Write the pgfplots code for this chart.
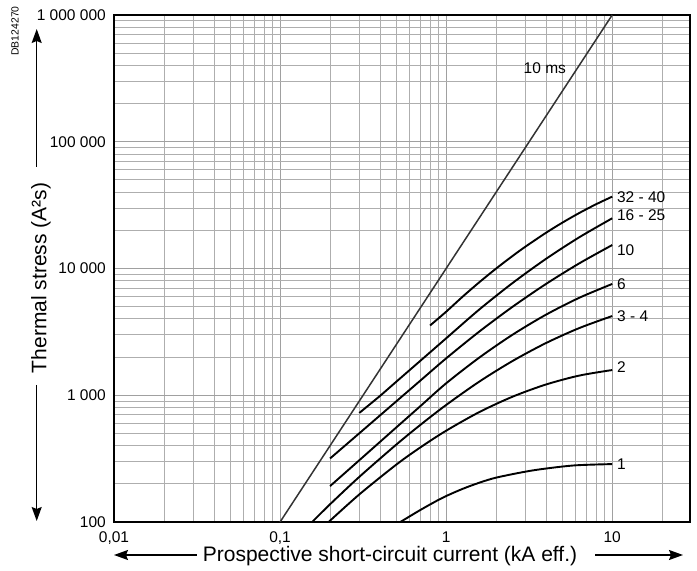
\documentclass[border=0pt]{standalone}
\usepackage{fontspec}
\setmainfont{Liberation Sans}
\usepackage{pgfplots}
\pgfplotsset{compat=1.18}
\usetikzlibrary{arrows.meta}
\definecolor{gridgray}{HTML}{A0A0A0}
\definecolor{tenms}{HTML}{333333}
\begin{document}
\begin{tikzpicture}
\useasboundingbox (-114pt,-49pt) rectangle (583pt,522pt);
\begin{axis}[
  at={(0pt,0pt)}, anchor=south west,
  scale only axis, width=576pt, height=507pt,
  xmode=log, ymode=log,
  xmin=0.01, xmax=29.4, ymin=100, ymax=1000000,
  xtick={0.01,0.1,1,10},
  xticklabels={{\mbox{0,01}},{\mbox{0,1}},{\mbox{1}},{\mbox{10}}},
  ytick={100,1000,10000,100000,1000000},
  yticklabels={{\mbox{100}},{\mbox{1 000}},{\mbox{10 000}},{\mbox{100 000}},{\mbox{1 000 000}}},
  minor xtick={0.02,0.03,0.04,0.05,0.06,0.07,0.08,0.09,0.2,0.3,0.4,0.5,0.6,0.7,0.8,0.9,2,3,4,5,6,7,8,9,20},
  minor ytick={200,300,400,500,600,700,800,900,2000,3000,4000,5000,6000,7000,8000,9000,20000,30000,40000,50000,60000,70000,80000,90000,200000,300000,400000,500000,600000,700000,800000,900000},
  grid=both,
  major grid style={draw=gridgray, line width=0.9pt},
  minor grid style={draw=gridgray!85, line width=0.9pt},
  axis line style={line width=1.8pt},
  major tick length=0pt, minor tick length=0pt,
  xticklabel style={font=\fontsize{15.5}{18}\selectfont, inner sep=0pt, anchor=base, yshift=-20.5pt},
  yticklabel style={font=\fontsize{15.5}{18}\selectfont, inner sep=0pt, anchor=east, xshift=-8pt},
  clip=true,
  every axis plot/.append style={line cap=butt},
]
% 10 ms
\addplot[tenms, line width=1.5pt] coordinates {(0.1,100) (10,1000000)};
% 32 - 40
\addplot[black, line width=1.9pt, smooth] coordinates {(0.8,3550) (1,4560) (1.259,6006) (1.585,7795) (2,9990) (2.512,12560) (3,14860) (3.981,19080) (5,22960) (6.31,27330) (7.943,31990) (10,36900)};
% 16 - 25
\addplot[black, line width=1.9pt, smooth] coordinates {(0.3,725) (0.4,989) (0.5,1276) (0.7,1872) (1,2812) (1.585,4752) (2.512,7683) (3.981,11880) (6.31,17580) (10,24890)};
% 10
\addplot[black, line width=1.9pt, smooth] coordinates {(0.2,317) (0.3,501) (0.5,893) (0.7,1306) (1,1954) (1.585,3183) (2.512,4989) (3.981,7531) (6.31,10945) (10,15310)};
% 6
\addplot[black, line width=1.9pt, smooth] coordinates {(0.2,192) (0.3,307) (0.5,556) (0.7,821) (1,1242) (1.585,1984) (2.512,3004) (3.981,4312) (6.31,5861) (10,7551)};
% 3 - 4
\addplot[black, line width=1.9pt, smooth] coordinates {(0.156,100) (0.2,138) (0.3,227) (0.5,407) (0.7,584) (1,838) (1.585,1282) (2.512,1864) (3.981,2576) (6.31,3382) (10,4217)};
% 2
\addplot[black, line width=1.9pt, smooth] coordinates {(0.196,100) (0.3,165) (0.5,283) (0.7,388) (1,525) (1.585,737) (2.512,974) (3.981,1214) (6.31,1428) (10,1581)};
% 1
\addplot[black, line width=1.9pt, smooth] coordinates {(0.53,100) (0.7,124.5) (0.9,149.6) (1,160.3) (1.26,182.8) (1.585,204.2) (2,223.9) (3,249.5) (4,264.2) (6,279.9) (10,286.4)};
% labels
\node[font=\fontsize{15.5}{18}\selectfont, inner sep=0pt] at (axis cs:3.93,380000) {10 ms};
\begin{scope}[every node/.style={font=\fontsize{15.5}{18}\selectfont, inner sep=0pt, anchor=west, xshift=4.7pt}]
\node at (axis cs:10,36860) {32 - 40};
\node at (axis cs:10,26420) {16 - 25};
\node at (axis cs:10,13870) {10};
\node at (axis cs:10,7550) {6};
\node at (axis cs:10,4220) {3 - 4};
\node at (axis cs:10,1680) {2};
\node at (axis cs:10,284) {1};
\end{scope}
\end{axis}
% side texts and arrows
\node[rotate=90, font=\fontsize{10.4}{12}\selectfont, inner sep=0pt] at (-99pt,491pt) {DB124270};
\draw[line width=1.3pt, -{Stealth[length=14pt, width=10pt, inset=2pt]}] (-77.3pt,355pt) -- (-77.3pt,493pt);
\draw[line width=1.3pt, -{Stealth[length=14pt, width=10pt, inset=2pt]}] (-77.3pt,137pt) -- (-77.3pt,1pt);
\node[rotate=90, font=\fontsize{21}{24}\selectfont, inner sep=0pt] at (-73pt,244pt) {Thermal stress (A²s)};
\node[font=\fontsize{21}{24}\selectfont, inner sep=0pt] at (276pt,-34.5pt) {Prospective short-circuit current (kA eff.)};
\draw[line width=1.3pt, -{Stealth[length=14pt, width=10pt, inset=2pt]}] (83pt,-33pt) -- (0pt,-33pt);
\draw[line width=1.3pt, -{Stealth[length=14pt, width=10pt, inset=2pt]}] (481pt,-33pt) -- (569pt,-33pt);
\end{tikzpicture}
\end{document}
